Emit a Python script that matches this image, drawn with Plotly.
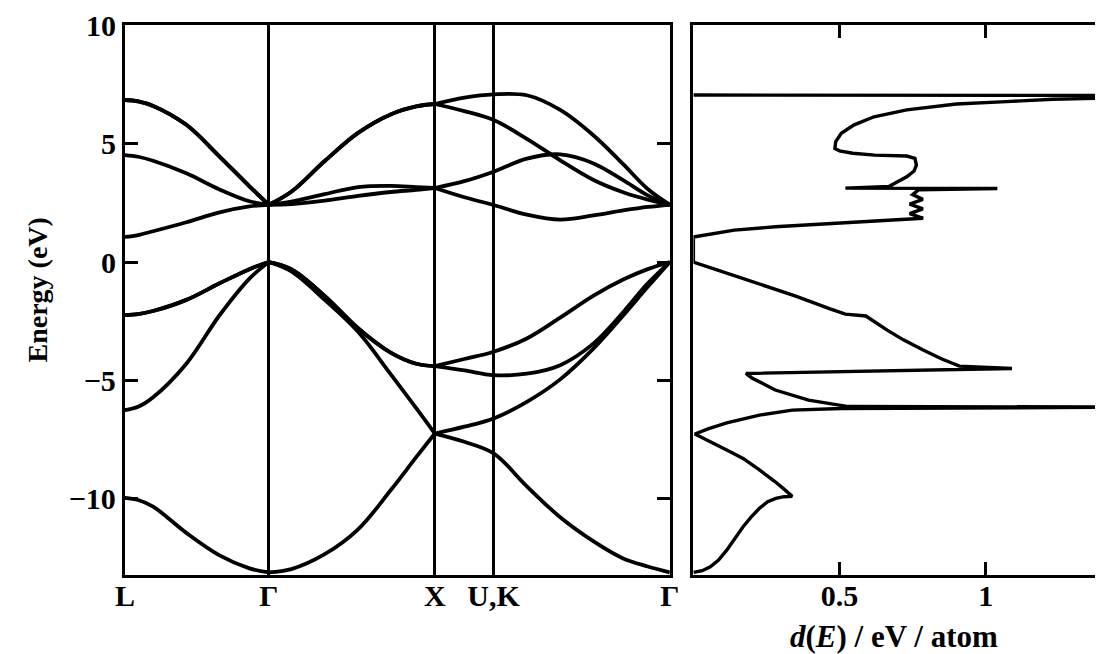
import plotly.graph_objects as go

# ---- band structure: k-path L - Gamma - X - U,K - Gamma (units of 2*pi/a) ----
k_LG = [0.0, 0.08, 0.17, 0.37, 0.57, 0.75, 0.866]
k_GX = [0.866, 1.002, 1.203, 1.404, 1.600, 1.754, 1.866]
k_XG = [1.866, 2.044, 2.220, 2.420, 2.621, 2.822, 3.000, 3.148, 3.281]

sym_k = [0.0, 0.866, 1.866, 2.220, 3.281]
sym_labels = ["L", "Γ", "X", "U,K", "Γ"]

# conduction bands (eV)
cb4_LG = [6.85, 6.79, 6.60, 5.80, 4.46, 3.20, 2.42]
cb4_GX = [2.42, 2.97, 4.27, 5.46, 6.24, 6.58, 6.68]
cb4_XG = [6.68, 6.95, 7.09, 7.05, 6.43, 5.35, 4.14, 3.09, 2.42]

cb3_LG = [6.85, 6.79, 6.60, 5.80, 4.46, 3.20, 2.42]
cb3_GX = [2.42, 2.97, 4.27, 5.46, 6.24, 6.58, 6.68]
cb3_XG = [6.68, 6.38, 6.00, 5.21, 4.30, 3.47, 2.95, 2.64, 2.42]

cb2_LG = [4.52, 4.45, 4.28, 3.75, 3.07, 2.57, 2.42]
cb2_GX = [2.42, 2.55, 2.87, 3.17, 3.22, 3.17, 3.13]
cb2_XG = [3.13, 3.42, 3.82, 4.37, 4.55, 4.17, 3.46, 2.82, 2.42]

cb1_LG = [1.06, 1.14, 1.30, 1.68, 2.10, 2.35, 2.42]
cb1_GX = [2.42, 2.45, 2.60, 2.80, 2.96, 3.05, 3.13]
cb1_XG = [3.13, 2.74, 2.41, 2.00, 1.79, 1.97, 2.18, 2.33, 2.42]

# valence bands (eV)
vb4_LG = [-2.24, -2.20, -2.07, -1.60, -0.90, -0.30, 0.00]
vb4_GX = [0.00, -0.30, -1.43, -2.80, -3.83, -4.30, -4.40]
vb4_XG = [-4.40, -4.10, -3.79, -3.23, -2.35, -1.42, -0.74, -0.30, 0.00]

vb3_LG = [-2.24, -2.20, -2.07, -1.60, -0.90, -0.30, 0.00]
vb3_GX = [0.00, -0.30, -1.43, -2.80, -3.83, -4.30, -4.40]
vb3_XG = [-4.40, -4.58, -4.78, -4.72, -4.36, -3.44, -2.12, -0.90, 0.00]

vb2_LG = [-6.26, -6.12, -5.72, -4.30, -2.25, -0.70, 0.00]
vb2_GX = [0.00, -0.40, -1.60, -2.95, -4.74, -6.18, -7.25]
vb2_XG = [-7.25, -6.96, -6.61, -5.91, -4.96, -3.65, -2.26, -1.05, 0.00]

vb1_LG = [-9.97, -10.06, -10.34, -11.45, -12.40, -12.95, -13.12]
vb1_GX = [-13.12, -12.98, -12.35, -11.30, -9.65, -8.25, -7.25]
vb1_XG = [-7.25, -7.60, -8.09, -9.48, -10.79, -11.81, -12.53, -12.87, -13.12]

# ---- density of states d(E), eV and states / eV / atom ----
dos_e = [-13.12, -13.05, -12.88, -12.60, -12.18, -11.68, -11.19, -10.77,
         -10.41, -10.13, -9.99, -9.92, -9.90, -9.60, -9.29, -8.79, -8.30,
         -7.95, -7.55, -7.27, -7.05, -6.80, -6.47, -6.26, -6.19, -6.16,
         -6.13, -6.11, -5.84, -5.41, -4.90, -4.71, -4.50, -4.40, -4.10,
         -3.72, -3.30, -2.88, -2.60, -2.28, -2.20, -1.99, -1.44, -0.89,
         -0.34, 0.00,
         1.06, 1.12, 1.20, 1.35, 1.49, 1.65, 1.85, 2.05, 2.25, 2.45, 2.65,
         2.85, 3.05, 3.11, 3.125, 3.20, 3.40, 3.60, 3.85, 4.10, 4.38, 4.48,
         4.52, 4.60, 4.70, 4.80, 5.09, 5.44, 5.80, 6.14, 6.43, 6.68, 6.78,
         6.88, 6.92, 6.97, 7.04, 7.06]
dos_d = [0.0, 0.030, 0.058, 0.086, 0.114, 0.142, 0.170, 0.198,
         0.226, 0.254, 0.282, 0.310, 0.338, 0.310, 0.280, 0.226, 0.170,
         0.114, 0.050, 0.005, 0.050, 0.114, 0.226, 0.338, 0.506, 1.6,
         1.6, 0.530, 0.394, 0.280, 0.200, 0.180, 1.090, 0.910, 0.850,
         0.786, 0.720, 0.663, 0.630, 0.590, 0.520, 0.470, 0.350, 0.215,
         0.080, 0.0,
         0.0, 0.030, 0.060, 0.140, 0.280, 0.500, 0.786, 0.740, 0.785, 0.740,
         0.785, 0.750, 0.770, 1.040, 0.520, 0.670, 0.700, 0.730, 0.755, 0.763,
         0.758, 0.730, 0.620, 0.545, 0.500, 0.484, 0.487, 0.506, 0.550, 0.618,
         0.730, 0.900, 1.070, 1.230, 1.375, 1.6, 1.6, 0.0]

E_RANGE = [-13.23, 10.02]
D_RANGE = [0.0, 1.374]
SERIF = "Liberation Serif, Times New Roman, serif"

bands = [
    (cb4_LG, cb4_GX, cb4_XG), (cb3_LG, cb3_GX, cb3_XG),
    (cb2_LG, cb2_GX, cb2_XG), (cb1_LG, cb1_GX, cb1_XG),
    (vb4_LG, vb4_GX, vb4_XG), (vb3_LG, vb3_GX, vb3_XG),
    (vb2_LG, vb2_GX, vb2_XG), (vb1_LG, vb1_GX, vb1_XG),
]

fig = go.Figure()

# each band is drawn as three smooth pieces joined at the symmetry points
for seg_LG, seg_GX, seg_XG in bands:
    xs, ys = [], []
    for kk, ee in ((k_LG, seg_LG), (k_GX, seg_GX), (k_XG, seg_XG)):
        xs += list(kk) + [None]
        ys += list(ee) + [None]
    fig.add_trace(go.Scatter(
        x=xs, y=ys, mode="lines", xaxis="x", yaxis="y",
        line=dict(color="black", width=3.8, shape="spline", smoothing=1.0),
        connectgaps=False, hoverinfo="skip", showlegend=False))

fig.add_trace(go.Scatter(
    x=dos_d, y=dos_e, mode="lines", xaxis="x2", yaxis="y2",
    line=dict(color="black", width=3.4), hoverinfo="skip", showlegend=False))

W, H = 1105, 654
left_px, mid_px, right0_px = 117, 672, 696
tick_font = dict(family=SERIF, size=30)

fig.update_layout(
    width=W, height=H,
    margin=dict(l=0, r=0, t=25, b=79),
    paper_bgcolor="white", plot_bgcolor="white",
    font=dict(family=SERIF, size=30, color="black"),
    xaxis=dict(
        domain=[left_px / W, mid_px / W], range=[0, sym_k[-1]],
        tickvals=sym_k, ticktext=["<b>%s</b>" % s for s in sym_labels], ticks="",
        showline=True, mirror=True, linecolor="black", linewidth=3,
        showgrid=True, gridcolor="black", gridwidth=2.7,
        zeroline=False, anchor="y", ticklabelstandoff=-8,
        tickfont=tick_font,
    ),
    yaxis=dict(
        domain=[0, 1], range=E_RANGE,
        tickvals=[-10, -5, 0, 5, 10],
        ticktext=["<b>−10</b>", "<b>−5</b>", "<b>0</b>", "<b>5</b>", "<b>10</b>"],
        ticks="inside", ticklen=13, tickwidth=2.6, tickcolor="black",
        showline=True, mirror="ticks", linecolor="black", linewidth=3,
        showgrid=False, zeroline=False, anchor="x",
        tickfont=tick_font,
    ),
    xaxis2=dict(
        domain=[right0_px / W, 1.0], range=D_RANGE,
        tickvals=[0.5, 1], ticktext=["<b>0.5</b>", "<b>1</b>"],
        ticks="inside", ticklen=13, tickwidth=2.6, tickcolor="black",
        showline=True, mirror="ticks", linecolor="black", linewidth=3,
        showgrid=False, zeroline=False, anchor="y2", ticklabelstandoff=-8,
        tickfont=tick_font,
    ),
    yaxis2=dict(
        domain=[0, 1], range=E_RANGE, anchor="x2",
        showline=True, mirror=False, linecolor="black", linewidth=3,
        ticks="", showticklabels=False, showgrid=False, zeroline=False,
    ),
    annotations=[
        dict(text="<b>Energy (eV)</b>", xref="paper", yref="paper",
             x=27 / W, y=(575 - 290) / 550, textangle=-90,
             showarrow=False, font=dict(family=SERIF, size=28),
             xanchor="center", yanchor="middle"),
        dict(text="<b><i>d</i>(<i>E</i>) / eV / atom</b>", xref="paper", yref="paper",
             x=900 / W, y=(575 - 636) / 550, showarrow=False,
             font=dict(family=SERIF, size=31),
             xanchor="center", yanchor="middle"),
    ],
)

fig.write_html("out.html")
